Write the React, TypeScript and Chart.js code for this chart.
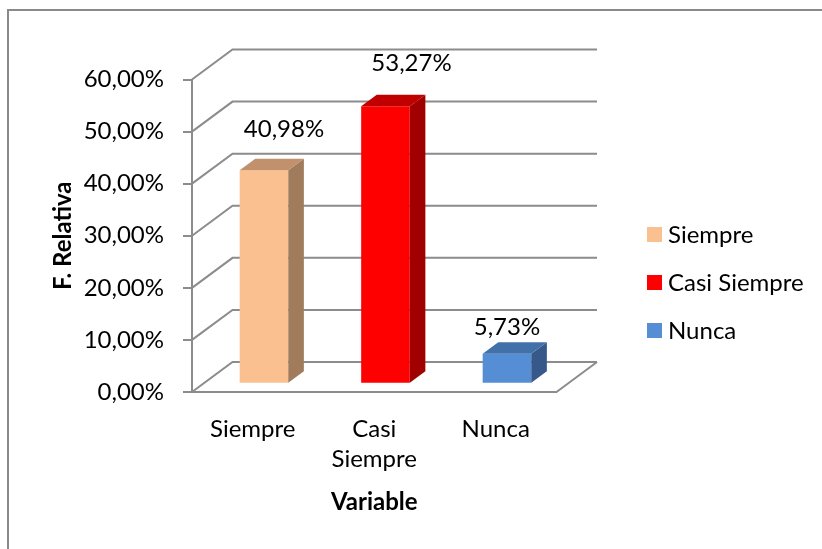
import React, { useEffect, useRef } from 'react';
import { Chart, registerables } from 'chart.js';

Chart.register(...registerables);

// ---- data ----
const categories = ['Siempre', 'Casi Siempre', 'Nunca'];
const values = [40.98, 53.27, 5.73];
const yTicks = [0, 10, 20, 30, 40, 50, 60];
const frontColors = ['#FAC090', '#FF0000', '#558ED5'];
const sideColors = ['#A07C5C', '#A00000', '#37598A'];
const topColors = ['#C0916C', '#C00000', '#4171A8'];

// ---- style ----
const FONT = 'Lato, "Open Sans", sans-serif';
const GRID = '#8C8C8C';
const WALL = { dx: 40.5, dy: -30 };
const BAR_FRONT = 0.277;
const BAR_DEPTH = 0.385;
const LABEL_SHIFT = [
  [20, -42],
  [26, -44],
  [0, -27],
];
const CAP_HALF = 8.6;

const fmt = (v: number) => v.toFixed(2).replace('.', ',') + '%';

function poly(ctx: CanvasRenderingContext2D, pts: number[][]) {
  ctx.beginPath();
  ctx.moveTo(pts[0][0], pts[0][1]);
  for (let i = 1; i < pts.length; i++) ctx.lineTo(pts[i][0], pts[i][1]);
  ctx.closePath();
  ctx.fill();
}

const threeD = {
  id: 'threeD',
  beforeDraw(chart: any) {
    const ctx = chart.ctx;
    ctx.save();
    ctx.fillStyle = '#ffffff';
    ctx.fillRect(0, 0, chart.width, chart.height);
    ctx.strokeStyle = '#8A8A8A';
    ctx.lineWidth = 2;
    ctx.strokeRect(8, 10, chart.width + 20, chart.height + 20);
    ctx.restore();
  },
  beforeDatasetsDraw(chart: any) {
    const { ctx, chartArea: a } = chart;
    const y = chart.scales.y;
    ctx.save();
    ctx.strokeStyle = GRID;
    ctx.lineWidth = 2;
    for (const t of yTicks) {
      const py = y.getPixelForValue(t);
      ctx.beginPath();
      ctx.moveTo(a.left, py);
      ctx.lineTo(a.left + WALL.dx, py + WALL.dy);
      ctx.lineTo(a.right + WALL.dx, py + WALL.dy);
      ctx.stroke();
    }
    const p0 = y.getPixelForValue(0);
    ctx.beginPath();
    ctx.moveTo(a.right + WALL.dx, p0 + WALL.dy);
    ctx.lineTo(a.right, p0);
    ctx.stroke();
    ctx.restore();
    ctx.save();
    ctx.translate(WALL.dx * BAR_FRONT, WALL.dy * BAR_FRONT);
  },
  afterDatasetsDraw(chart: any) {
    const ctx = chart.ctx;
    ctx.restore();
    const ox = WALL.dx * BAR_FRONT;
    const oy = WALL.dy * BAR_FRONT;
    const bx = WALL.dx * BAR_DEPTH;
    const by = WALL.dy * BAR_DEPTH;
    const meta = chart.getDatasetMeta(0);
    ctx.save();
    meta.data.forEach((bar: any, i: number) => {
      const { x, y, base, width } = bar.getProps(['x', 'y', 'base', 'width'], true);
      const L = x - width / 2 + ox;
      const R = x + width / 2 + ox;
      const T = y + oy;
      const B = base + oy;
      ctx.fillStyle = sideColors[i];
      poly(ctx, [[R, T], [R + bx, T + by], [R + bx, B + by], [R, B]]);
      ctx.fillStyle = topColors[i];
      poly(ctx, [[L, T], [L + bx, T + by], [R + bx, T + by], [R, T]]);
      ctx.fillStyle = '#000';
      ctx.font = `24px ${FONT}`;
      ctx.textAlign = 'center';
      ctx.textBaseline = 'alphabetic';
      ctx.fillText(fmt(values[i]), x + ox + LABEL_SHIFT[i][0], T + LABEL_SHIFT[i][1] + CAP_HALF);
    });
    ctx.restore();
  },
  afterDraw(chart: any) {
    const ctx = chart.ctx;
    ctx.save();
    const lx = 647;
    const ly0 = 234.5;
    const step = 48;
    categories.forEach((c, i) => {
      const cy = ly0 + i * step;
      ctx.fillStyle = frontColors[i];
      ctx.fillRect(lx, cy - 7.5, 15, 15);
      ctx.fillStyle = '#000';
      ctx.font = `24px ${FONT}`;
      ctx.textAlign = 'left';
      ctx.textBaseline = 'alphabetic';
      ctx.fillText(c, 668, cy + CAP_HALF);
    });
    ctx.restore();
  },
};

export default function App() {
  const ref = useRef<HTMLCanvasElement | null>(null);

  useEffect(() => {
    if (!ref.current) return;
    const chart = new Chart(ref.current, {
      type: 'bar',
      data: {
        labels: categories,
        datasets: [
          {
            label: 'F. Relativa',
            data: values,
            backgroundColor: frontColors,
            borderWidth: 0,
            categoryPercentage: 1,
            barPercentage: 0.4,
          },
        ],
      },
      options: {
        animation: false,
        responsive: false,
        events: [],
        layout: { padding: { left: 0, top: 79.5, right: 265.5, bottom: 0 } },
        plugins: {
          legend: { display: false },
          tooltip: { enabled: false },
        },
        scales: {
          x: {
            type: 'category',
            grid: { display: false, drawTicks: false },
            border: { display: true, color: GRID, width: 2 },
            ticks: {
              color: '#000',
              font: { family: FONT, size: 24, lineHeight: 1.22 },
              padding: 23,
              maxRotation: 0,
              autoSkip: false,
              callback: (_v: any, i: number) => {
                const c = categories[i];
                return c.includes(' ') ? c.split(' ') : c;
              },
            },
            title: {
              display: true,
              text: 'Variable',
              color: '#000',
              font: { family: FONT, size: 24, weight: 'bold', lineHeight: 1.2 },
              padding: { top: 0, bottom: 32 },
            },
            afterFit: (s: any) => {
              s.height = 157;
            },
          },
          y: {
            type: 'linear',
            min: 0,
            max: 60,
            grid: { drawOnChartArea: false, drawTicks: true, tickLength: 9, color: GRID, lineWidth: 2 },
            border: { display: true, color: GRID, width: 2 },
            ticks: {
              color: '#000',
              font: { family: FONT, size: 24 },
              padding: 19,
              callback: (v: any) => fmt(Number(v)),
            },
            afterBuildTicks: (s: any) => {
              s.ticks = yTicks.map((v) => ({ value: v }));
            },
            title: {
              display: true,
              text: 'F. Relativa',
              color: '#000',
              font: { family: FONT, size: 24, weight: 'bold', lineHeight: 1.2 },
              padding: { top: 49, bottom: 0 },
            },
            afterFit: (s: any) => {
              s.width = 192;
            },
          },
        },
      },
      plugins: [threeD],
    } as any);
    return () => chart.destroy();
  }, []);

  return (
    <div style={{ position: 'fixed', left: 0, top: 0, width: 822, height: 549, background: '#fff' }}>
      <canvas ref={ref} width={822} height={549} style={{ display: 'block' }} />
    </div>
  );
}
